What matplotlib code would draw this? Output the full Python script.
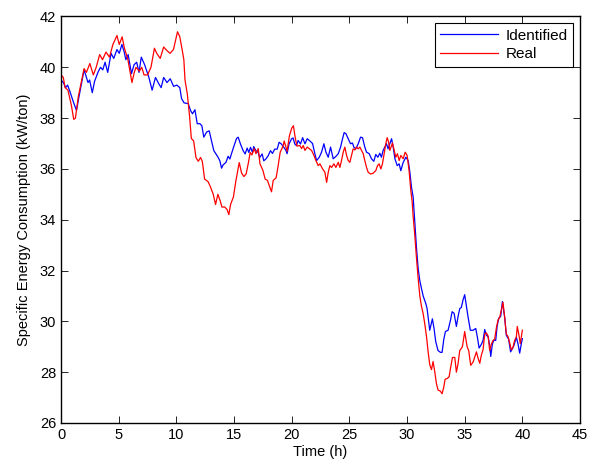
import matplotlib
matplotlib.use('Agg')
import matplotlib.pyplot as plt

plt.rcParams['font.family'] = ['Liberation Sans', 'DejaVu Sans']

# identified model output
t_ident = [0.0, 0.2, 0.4, 0.57, 0.77, 1.06, 1.34, 1.54, 2.0, 2.2, 2.34, 2.48, 2.71, 2.91,
           3.2, 3.42, 3.62, 3.82, 4.05, 4.34, 4.57, 4.85, 5.05, 5.28, 5.48, 5.62, 5.82,
           6.11, 6.33, 6.56, 6.76, 6.96, 7.25, 7.62, 7.9, 8.19, 8.48, 8.68, 8.9, 9.19,
           9.47, 9.76, 10.04, 10.3, 10.45, 10.67, 11.03, 11.23, 11.4, 11.61, 11.81,
           12.04, 12.21, 12.38, 12.62, 12.85, 13.05, 13.25, 13.42, 13.63, 13.77, 13.92,
           14.06, 14.3, 14.49, 14.64, 14.78, 14.98, 15.22, 15.36, 15.56, 15.79, 15.96,
           16.14, 16.28, 16.43, 16.6, 16.71, 16.89, 17.09, 17.23, 17.44, 17.58, 17.76,
           17.96, 18.16, 18.33, 18.53, 18.74, 18.91, 19.11, 19.32, 19.49, 19.6, 19.77,
           19.98, 20.12, 20.27, 20.41, 20.56, 20.76, 20.95, 21.15, 21.35, 21.58, 21.81,
           22.01, 22.16, 22.39, 22.59, 22.79, 22.97, 23.17, 23.37, 23.6, 23.83, 24.04,
           24.24, 24.41, 24.55, 24.7, 24.9, 25.1, 25.27, 25.39, 25.56, 25.77, 25.97,
           26.14, 26.34, 26.49, 26.72, 26.92, 27.12, 27.29, 27.47, 27.64, 27.78, 27.93,
           28.07, 28.22, 28.36, 28.51, 28.66, 28.8, 28.95, 29.15, 29.32, 29.46, 29.67,
           29.9, 30.1, 30.24, 30.39, 30.53, 30.67, 30.82, 30.96, 31.11, 31.25, 31.4,
           31.63, 31.74, 31.97, 32.2, 32.35, 32.49, 32.69, 32.9, 33.04, 33.19, 33.33,
           33.56, 33.77, 33.91, 34.08, 34.28, 34.43, 34.57, 34.71, 34.86, 35.0, 35.15,
           35.29, 35.49, 35.73, 35.96, 36.1, 36.25, 36.45, 36.59, 36.74, 36.88, 37.03,
           37.17, 37.26, 37.4, 37.52, 37.69, 37.81, 37.95, 38.12, 38.27, 38.47, 38.61,
           38.81, 38.98, 39.13, 39.27, 39.48, 39.62, 39.77, 39.91, 40.0]
sec_ident = [39.5, 39.4, 39.2, 39.3, 39.05, 38.65, 38.3, 38.8, 39.9, 39.6, 39.4, 39.5, 39.0,
             39.45, 39.8, 40.0, 39.9, 40.2, 39.8, 40.55, 40.35, 40.7, 40.55, 40.9, 40.6,
             40.3, 40.5, 39.75, 40.1, 40.2, 39.8, 40.4, 40.1, 39.6, 39.1, 39.6, 39.35,
             39.2, 39.6, 39.4, 39.55, 39.25, 39.3, 39.2, 38.77, 38.6, 38.57, 38.3, 38.17,
             38.33, 37.78, 37.78, 37.7, 37.25, 37.45, 37.5, 37.1, 36.72, 36.6, 36.45,
             36.32, 36.03, 36.16, 36.26, 36.5, 36.39, 36.6, 36.88, 37.2, 37.25, 36.98,
             36.72, 36.59, 36.82, 36.65, 36.85, 36.65, 36.88, 36.72, 36.65, 36.45, 36.59,
             36.32, 36.39, 36.52, 36.72, 36.61, 36.78, 36.78, 37.05, 36.98, 36.85, 36.74,
             36.6, 36.98, 37.18, 37.22, 36.98, 36.92, 37.12, 36.98, 37.23, 36.99, 37.19,
             37.1, 37.0, 36.6, 36.33, 36.46, 36.66, 36.99, 36.66, 36.46, 36.86, 36.4,
             36.49, 36.6, 36.86, 37.19, 37.43, 37.39, 37.19, 36.99, 37.02, 36.86, 36.79,
             36.99, 37.25, 37.23, 36.86, 36.66, 36.6, 36.4, 36.3, 36.57, 36.46, 36.62,
             36.46, 36.73, 36.86, 36.99, 36.79, 36.99, 37.19, 36.86, 36.4, 36.13, 36.2,
             35.93, 36.26, 36.46, 36.33, 35.9, 35.27, 34.9, 33.94, 32.9, 32.1, 31.6, 31.3,
             31.0, 30.7, 30.5, 29.65, 30.1, 29.7, 29.2, 28.85, 28.78, 28.78, 29.3, 29.6,
             29.65, 30.05, 30.38, 30.32, 29.8, 30.2, 30.5, 30.55, 30.85, 31.05, 30.6,
             30.18, 29.65, 29.65, 29.72, 29.38, 28.95, 29.1, 29.25, 29.68, 29.45, 29.4,
             29.05, 28.62, 29.1, 29.25, 29.25, 29.8, 30.12, 30.2, 30.78, 30.15, 29.45,
             29.3, 28.8, 28.92, 29.05, 29.38, 29.12, 28.75, 29.12, 29.32]

# measured plant data
t_real = [0.0, 0.2, 0.35, 0.6, 0.9, 1.1, 1.25, 1.5, 2.0, 2.2, 2.5, 2.8, 3.05, 3.35, 3.6,
          3.9, 4.2, 4.5, 4.85, 5.05, 5.3, 5.5, 5.8, 6.15, 6.35, 6.5, 6.8, 7.0, 7.2, 7.5,
          7.8, 8.1, 8.3, 8.6, 8.9, 9.2, 9.45, 9.75, 10.1, 10.3, 10.5, 10.65, 10.75, 10.95,
          11.15, 11.3, 11.5, 11.7, 11.9, 12.1, 12.25, 12.45, 12.75, 12.95, 13.2, 13.4,
          13.6, 13.8, 13.95, 14.2, 14.4, 14.55, 14.7, 14.95, 15.15, 15.45, 15.65, 15.85,
          16.05, 16.25, 16.4, 16.55, 16.75, 16.9, 17.1, 17.25, 17.5, 17.7, 17.9, 18.05,
          18.25, 18.4, 18.65, 18.8, 19.0, 19.25, 19.35, 19.6, 19.8, 20.0, 20.15, 20.3,
          20.45, 20.71, 20.86, 21.0, 21.15, 21.35, 21.52, 21.72, 21.93, 22.1, 22.3, 22.45,
          22.68, 22.88, 23.03, 23.17, 23.31, 23.46, 23.66, 23.83, 24.04, 24.18, 24.32,
          24.47, 24.61, 24.76, 24.9, 25.04, 25.19, 25.33, 25.48, 25.62, 25.77, 25.91,
          26.06, 26.2, 26.34, 26.49, 26.63, 26.84, 27.06, 27.29, 27.44, 27.58, 27.73,
          27.87, 28.02, 28.16, 28.28, 28.4, 28.51, 28.66, 28.74, 28.89, 29.03, 29.17,
          29.32, 29.46, 29.67, 29.84, 30.01, 30.18, 30.33, 30.44, 30.53, 30.67, 30.82,
          30.96, 31.11, 31.25, 31.4, 31.54, 31.69, 31.83, 31.97, 32.12, 32.26, 32.41,
          32.55, 32.69, 32.9, 33.04, 33.19, 33.3, 33.48, 33.65, 33.79, 33.94, 34.14,
          34.28, 34.43, 34.57, 34.8, 35.0, 35.21, 35.35, 35.52, 35.73, 35.87, 36.02,
          36.16, 36.31, 36.45, 36.59, 36.74, 36.88, 37.03, 37.17, 37.31, 37.46, 37.6,
          37.75, 37.89, 38.03, 38.18, 38.32, 38.47, 38.61, 38.76, 38.9, 39.04, 39.19,
          39.33, 39.48, 39.56, 39.71, 39.82, 40.0]
sec_real = [39.7, 39.6, 39.2, 39.1, 38.5, 37.95, 38.0, 38.85, 39.95, 39.8, 40.15, 39.7,
            40.0, 40.5, 40.3, 40.6, 40.4, 40.9, 41.25, 40.9, 41.2, 40.75, 40.3, 39.4,
            39.8, 40.0, 39.85, 40.0, 39.7, 39.7, 40.0, 40.75, 40.55, 40.35, 40.8, 40.65,
            40.55, 40.7, 41.4, 41.2, 40.7, 40.3, 39.5, 38.95, 38.05, 37.2, 37.1, 36.45,
            36.3, 36.45, 36.3, 35.6, 35.5, 35.3, 35.0, 34.6, 35.0, 34.75, 34.5, 34.5,
            34.4, 34.2, 34.6, 34.9, 35.5, 36.25, 35.85, 35.7, 35.8, 36.25, 36.65, 36.55,
            36.8, 36.6, 36.8, 36.2, 35.95, 35.6, 35.55, 35.35, 35.1, 35.55, 35.65, 36.05,
            36.65, 36.9, 37.1, 36.7, 37.3, 37.6, 37.7, 37.25, 36.9, 36.92, 36.8, 36.92,
            36.73, 36.86, 36.8, 36.73, 36.53, 36.33, 36.13, 36.2, 36.0, 35.87, 35.47,
            35.87, 36.13, 36.06, 36.2, 36.06, 36.26, 36.06, 36.33, 36.66, 36.86, 36.53,
            36.33, 36.26, 36.53, 36.79, 36.75, 36.86, 36.79, 36.86, 36.73, 36.6, 36.33,
            36.06, 35.87, 35.8, 35.83, 35.93, 36.13, 36.2, 36.0, 36.2, 36.6, 36.99, 37.23,
            37.06, 36.73, 36.92, 37.02, 36.73, 36.46, 36.6, 36.33, 36.53, 36.4, 36.66,
            36.53, 35.93, 35.14, 34.74, 34.15, 33.41, 32.5, 31.72, 31.0, 30.6, 30.3, 29.9,
            29.4, 28.8, 28.3, 28.1, 28.42, 28.0, 27.55, 27.3, 27.25, 27.15, 27.42, 27.72,
            27.75, 27.82, 28.2, 28.58, 28.58, 28.0, 28.35, 28.85, 29.0, 29.6, 29.0, 28.85,
            28.27, 28.4, 28.6, 28.8, 28.55, 28.35, 28.68, 28.88, 29.5, 29.55, 29.42, 28.85,
            29.1, 29.25, 29.3, 29.75, 30.05, 30.15, 30.45, 30.75, 30.15, 29.5, 29.4, 29.15,
            28.88, 28.98, 29.25, 29.38, 29.8, 29.45, 29.12, 29.65]

fig = plt.figure(figsize=(6, 4.66), dpi=100)
ax = fig.add_axes([0.1017, 0.0923, 0.865, 0.8723])

ax.plot(t_ident, sec_ident, color='#0000ff', lw=0.9, label='Identified')
ax.plot(t_real, sec_real, color='#ff0000', lw=0.9, label='Real')

ax.set_xlim(0, 45)
ax.set_ylim(26, 42)
ax.set_xticks(range(0, 46, 5))
ax.set_yticks(range(26, 43, 2))
ax.tick_params(direction='in', top=True, right=True, labelsize=10.5, length=5, width=0.6)
for s in ax.spines.values():
    s.set_linewidth(1.0)

ax.set_xlabel('Time (h)', fontsize=10.5, labelpad=2)
ax.set_ylabel('Specific Energy Consumption (kW/ton)', fontsize=10.5, labelpad=6)

leg = ax.legend(loc='upper right', fontsize=11, fancybox=False, framealpha=1,
                edgecolor='black', borderaxespad=0.45, handlelength=3.8,
                borderpad=0.35, labelspacing=0.3, handletextpad=0.5)
leg.get_frame().set_linewidth(0.8)

plt.savefig('out.png', dpi=100)
plt.close()
